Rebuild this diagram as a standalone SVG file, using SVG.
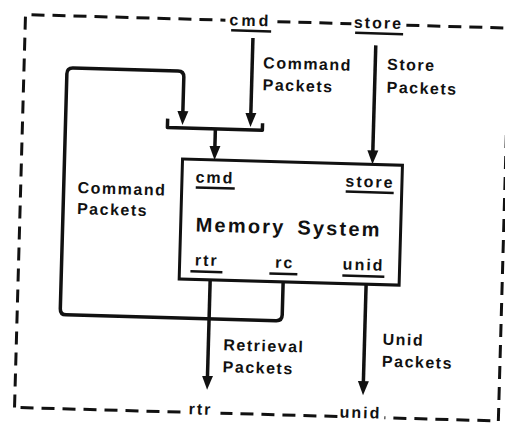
<svg xmlns="http://www.w3.org/2000/svg" width="505" height="423" viewBox="0 0 505 423">
  <style>
    .t { font-family: "Liberation Sans", Arial, sans-serif; font-weight: bold; font-size: 16px; fill: #111; letter-spacing: 1.5px; }
    .port { letter-spacing: 2px; }
    .big { font-size: 20px; letter-spacing: 2.2px; word-spacing: 4px; }
    .ul { stroke: #111; stroke-width: 2.5; fill: none; }
    .conn { stroke: #111; stroke-width: 3.5; fill: none; stroke-linejoin: round; }
    .box { stroke: #111; stroke-width: 3; fill: #fff; }
    .dash { stroke: #111; stroke-width: 3; fill: none; stroke-dasharray: 13 8; }
  </style>
  <defs>
    <marker id="ah" markerUnits="userSpaceOnUse" markerWidth="16" markerHeight="14" viewBox="0 -7 16 14" refX="4" refY="0" orient="auto">
      <path d="M0,-5.5 L14,0 L0,5.5 Z" fill="#111"/>
    </marker>
  </defs>
  <rect width="505" height="423" fill="#fff"/>
  <g transform="rotate(1.6 252 215)">
    <g id="boundary">
      <path class="dash" d="M20,414 V21 H220 M272,21 H346 M401,21 H504 V414 H390 M343,414 H226 M186,414 H20"/>
      <text class="t" x="245" y="26" text-anchor="middle" style="letter-spacing:3px">cmd</text>
      <line class="ul" x1="226" y1="31" x2="266" y2="31"/>
      <text class="t" x="373" y="25" text-anchor="middle" style="letter-spacing:2px">store</text>
      <line class="ul" x1="350" y1="30" x2="398" y2="30"/>
      <text class="t" x="206" y="416" text-anchor="middle" style="letter-spacing:2px">rtr</text>
      <text class="t" x="366" y="415" text-anchor="middle" style="letter-spacing:2px">unid</text>
    </g>
    <g id="connectors">
      <line class="conn" x1="248" y1="38" x2="248" y2="117" marker-end="url(#ah)"/>
      <path class="conn" d="M285,281 V314 Q285,320 279,320 H69 Q63,320 63,314 V79 Q63,73 69,73 H174 Q180,73 180,79 V117" marker-end="url(#ah)"/>
      <path class="conn" d="M165,121 V130 H260 V123"/>
      <line class="conn" x1="213" y1="130" x2="213" y2="151" marker-end="url(#ah)"/>
      <line class="conn" x1="371" y1="42" x2="371" y2="151" marker-end="url(#ah)"/>
      <line class="conn" x1="212" y1="281" x2="212" y2="381" marker-end="url(#ah)"/>
      <line class="conn" x1="368" y1="281" x2="368" y2="382" marker-end="url(#ah)"/>
    </g>
    <g id="memory-system">
      <rect class="box" x="181" y="161" width="220" height="120"/>
      <text class="t port" x="214" y="184" text-anchor="middle">cmd</text>
      <line class="ul" x1="195" y1="189" x2="234" y2="189"/>
      <text class="t port" x="369" y="184" text-anchor="middle">store</text>
      <line class="ul" x1="345" y1="189" x2="393" y2="189"/>
      <text class="t big" x="289" y="233" text-anchor="middle">Memory System</text>
      <text class="t port" x="208" y="267" text-anchor="middle">rtr</text>
      <line class="ul" x1="192" y1="273" x2="224" y2="273"/>
      <text class="t port" x="286" y="267" text-anchor="middle">rc</text>
      <line class="ul" x1="271" y1="273" x2="299" y2="273"/>
      <text class="t port" x="365" y="267" text-anchor="middle">unid</text>
      <line class="ul" x1="344" y1="273" x2="386" y2="273"/>
    </g>
    <g id="labels">
      <text class="t" x="259" y="68">Command</text>
      <text class="t" x="259" y="90">Packets</text>
      <text class="t" x="383" y="66">Store</text>
      <text class="t" x="383" y="89">Packets</text>
      <text class="t" x="77" y="198">Command</text>
      <text class="t" x="77" y="219">Packets</text>
      <text class="t" x="227" y="351">Retrieval</text>
      <text class="t" x="227" y="373">Packets</text>
      <text class="t" x="386" y="341">Unid</text>
      <text class="t" x="386" y="363">Packets</text>
    </g>
  </g>
</svg>
